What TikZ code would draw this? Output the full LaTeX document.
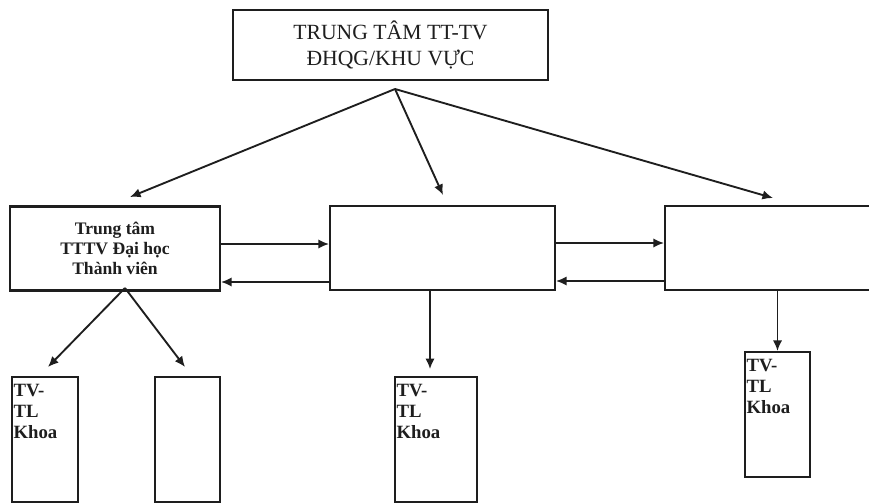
\documentclass[tikz,border=0pt]{standalone}
\usepackage{fontspec}
\setmainfont{Liberation Serif}
\usepackage{xcolor}
\usepackage{tikz}
\usetikzlibrary{arrows.meta}
\definecolor{inkblack}{RGB}{30, 30, 30}

\tikzset{
  unitbox/.style={draw=inkblack, line width=1.8pt, rectangle, inner sep=0pt},
  khoabox/.style={unitbox, minimum height=125*0.03cm},
  arr/.style={draw=inkblack, line width=1.6pt, -{Latex[length=9pt, width=8pt]}}
}

\begin{document}
\begin{tikzpicture}[x=0.03cm, y=-0.03cm]
\clip (0,0) rectangle (869,503);
\fill[white] (0,0) rectangle (869,503);

% Top level centre
\node[unitbox, minimum width=315*0.03cm, minimum height=70*0.03cm, align=center,
      font=\fontsize{18.5}{22}\selectfont, text=inkblack] (center) at (390.5,45)
      {TRUNG TÂM TT-TV\\ĐHQG/KHU VỰC};

% Member centres
\node[unitbox, minimum width=210*0.03cm, minimum height=84*0.03cm, align=center,
      font=\fontsize{15}{17}\selectfont\bfseries, text=inkblack] (member) at (115,248.5)
      {Trung tâm\\TTTV Đại học\\Thành viên};
\node[unitbox, minimum width=225*0.03cm, minimum height=84*0.03cm] (midbox) at (442.5,248)
      {};
\node[unitbox, minimum width=235*0.03cm, minimum height=84*0.03cm] (rightbox) at (782.5,248)
      {};

% Faculty libraries
\node[khoabox, minimum width=66*0.03cm] (khoaA) at (45,439.5) {};
\node[khoabox, minimum width=65*0.03cm] (khoaB) at (187.5,439.5) {};
\node[khoabox, minimum width=82*0.03cm] (khoaC) at (436,439.5) {};
\node[khoabox, minimum width=65*0.03cm] (khoaD) at (777.5,414.5) {};

\foreach \k in {khoaA, khoaC, khoaD} {
  \node[anchor=north west, align=left, inner xsep=2pt, inner ysep=7pt, text=inkblack,
        font=\fontsize{16}{18}\selectfont\bfseries] at (\k.north west) {TV-\\TL\\Khoa};
}

% Fan-out points
\coordinate (hub) at (395,89);
\coordinate (subhub) at (125,288);
\coordinate (tipL) at (130,197);
\coordinate (tipM) at (443,195);
\coordinate (tipR) at (773,198);
\coordinate (tipA) at (48,367);
\coordinate (tipB) at (185,367);

% From the top centre
\draw[arr] (hub) -- (tipL);
\draw[arr] (hub) -- (tipM);
\draw[arr] (hub) -- (tipR);

% Exchange between centres
\draw[arr] (member.east |- 0,244) -- (midbox.west |- 0,244);
\draw[arr] (midbox.west |- 0,282) -- (member.east |- 0,282);
\draw[arr] (midbox.east |- 0,243) -- (rightbox.west |- 0,243);
\draw[arr] (rightbox.west |- 0,281) -- (midbox.east |- 0,281);

% Down to the faculty libraries
\draw[arr] (subhub) -- (tipA);
\draw[arr] (subhub) -- (tipB);
\draw[arr] (midbox.south -| khoaC.north) ++(-6,0) -- ++(0,78);
\draw[arr] (rightbox.south -| khoaD.north) -- (khoaD.north);
\end{tikzpicture}
\end{document}
